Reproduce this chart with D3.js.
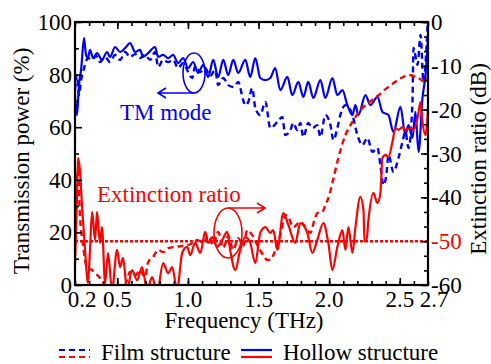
<!DOCTYPE html>
<html>
<head>
<meta charset="utf-8">
<script src="https://cdn.jsdelivr.net/npm/d3@7"></script>
<style>
  body { margin: 0; background: #fff; }
  svg { display: block; }
</style>
</head>
<body>
<div id="chart"></div>
<script>
// Transmission (%) of TM mode, hollow structure (solid blue)
const hollowTmFreq = [0.200, 0.214, 0.228, 0.243, 0.264, 0.278, 0.292, 0.306, 0.328, 0.356, 0.391, 0.427, 0.448, 0.484, 0.519, 0.555, 0.590, 0.626, 0.661, 0.682, 0.718, 0.767, 0.789, 0.824, 0.860, 0.895, 0.930, 0.966, 1.001, 1.037, 1.072, 1.108, 1.143, 1.179, 1.214, 1.250, 1.285, 1.321, 1.356, 1.406, 1.441, 1.477, 1.512, 1.548, 1.583, 1.618, 1.654, 1.704, 1.739, 1.782, 1.817, 1.852, 1.888, 1.938, 1.973, 2.023, 2.058, 2.094, 2.129, 2.165, 2.186, 2.207, 2.257, 2.292, 2.342, 2.377, 2.420, 2.455, 2.505, 2.540, 2.562, 2.590, 2.611, 2.633, 2.661, 2.682, 2.704];
const hollowTm = [72.2, 64.6, 76.0, 81.7, 93.9, 87.5, 86.3, 89.4, 86.3, 88.2, 85.6, 88.6, 86.7, 90.5, 88.6, 90.1, 92.0, 88.6, 89.4, 86.7, 88.2, 90.5, 86.7, 87.5, 86.3, 87.5, 84.4, 86.3, 82.5, 84.8, 80.6, 83.7, 79.1, 85.6, 79.1, 85.6, 79.8, 85.6, 80.6, 85.6, 79.1, 86.3, 78.7, 77.9, 78.7, 82.5, 74.1, 79.1, 72.2, 77.2, 71.5, 77.2, 71.1, 77.9, 71.1, 78.7, 72.2, 74.1, 68.4, 64.6, 68.4, 64.6, 72.2, 68.4, 71.5, 65.8, 64.6, 58.2, 67.7, 57.0, 60.8, 55.9, 65.8, 50.6, 71.1, 79.8, 97.0];

// Transmission (%) of TM mode, film structure (dashed blue)
const filmTmFreq = [0.200, 0.214, 0.228, 0.243, 0.257, 0.271, 0.292, 0.321, 0.349, 0.377, 0.413, 0.448, 0.484, 0.519, 0.555, 0.590, 0.626, 0.661, 0.696, 0.732, 0.767, 0.789, 0.824, 0.860, 0.895, 0.930, 0.966, 1.001, 1.030, 1.051, 1.087, 1.122, 1.157, 1.193, 1.214, 1.250, 1.285, 1.321, 1.356, 1.391, 1.406, 1.427, 1.455, 1.477, 1.512, 1.548, 1.583, 1.633, 1.668, 1.689, 1.725, 1.746, 1.774, 1.796, 1.817, 1.852, 1.881, 1.916, 1.938, 1.973, 2.009, 2.030, 2.058, 2.079, 2.115, 2.165, 2.200, 2.235, 2.271, 2.306, 2.342, 2.363, 2.384, 2.405, 2.420, 2.455, 2.491, 2.519, 2.540, 2.562, 2.590, 2.597, 2.626, 2.647, 2.668, 2.697];
const filmTm = [74.1, 79.8, 72.2, 77.9, 81.0, 83.7, 86.3, 85.6, 87.1, 84.8, 86.7, 84.8, 87.5, 85.6, 88.6, 86.7, 87.8, 86.3, 87.5, 85.6, 88.6, 82.9, 85.6, 84.8, 85.6, 82.5, 84.4, 81.0, 78.7, 83.3, 81.0, 82.5, 79.5, 81.7, 76.0, 78.7, 76.0, 75.3, 77.2, 70.3, 68.4, 69.6, 74.9, 67.3, 64.6, 69.6, 59.7, 62.0, 63.9, 57.0, 58.9, 61.6, 58.9, 61.6, 56.3, 61.6, 59.7, 60.8, 56.3, 64.6, 60.8, 55.1, 59.7, 64.6, 68.4, 64.6, 57.0, 53.2, 55.9, 50.6, 52.1, 45.6, 38.0, 41.8, 49.4, 43.0, 48.3, 54.4, 58.2, 52.1, 69.6, 90.1, 83.7, 95.1, 77.2, 98.9];

// Extinction ratio (dB), hollow structure (solid red)
const hollowErFreq = [0.200, 0.214, 0.221, 0.235, 0.250, 0.271, 0.292, 0.306, 0.321, 0.342, 0.356, 0.377, 0.391, 0.413, 0.434, 0.462, 0.498, 0.519, 0.540, 0.569, 0.604, 0.640, 0.675, 0.711, 0.746, 0.782, 0.824, 0.860, 0.888, 0.923, 0.959, 0.994, 1.016, 1.051, 1.087, 1.122, 1.143, 1.172, 1.207, 1.243, 1.278, 1.299, 1.335, 1.370, 1.406, 1.441, 1.477, 1.512, 1.548, 1.583, 1.604, 1.633, 1.675, 1.711, 1.760, 1.796, 1.845, 1.881, 1.916, 1.959, 1.994, 2.023, 2.058, 2.094, 2.115, 2.136, 2.165, 2.186, 2.221, 2.243, 2.250, 2.264, 2.278, 2.313, 2.342, 2.363, 2.377, 2.399, 2.420, 2.448, 2.469, 2.491, 2.519, 2.540, 2.576, 2.597, 2.626, 2.647, 2.661, 2.682, 2.704];
const hollowEr = [-55.4, -40.6, -31.0, -33.8, -42.2, -52.0, -59.5, -52.0, -43.3, -49.7, -43.3, -50.4, -46.8, -59.5, -52.7, -61.1, -52.0, -55.9, -53.8, -61.1, -56.6, -58.9, -55.9, -61.1, -58.2, -61.6, -55.0, -57.3, -55.9, -61.1, -52.7, -51.3, -53.2, -50.4, -52.7, -47.9, -50.4, -49.1, -51.3, -49.7, -47.9, -52.0, -56.6, -52.0, -49.1, -50.4, -55.0, -48.1, -46.8, -48.1, -47.5, -52.0, -43.6, -46.3, -50.4, -45.9, -48.1, -52.7, -49.7, -45.9, -50.4, -56.6, -51.3, -47.5, -52.0, -46.8, -52.7, -46.8, -39.9, -42.9, -50.0, -50.0, -45.2, -39.0, -41.3, -39.0, -31.0, -30.3, -30.8, -27.4, -24.2, -24.6, -24.0, -24.6, -24.2, -24.6, -21.9, -18.3, -22.8, -25.8, -17.8];

// Extinction ratio (dB), film structure (dashed red)
const filmErFreq = [0.200, 0.221, 0.235, 0.257, 0.285, 0.321, 0.356, 0.391, 0.427, 0.484, 0.555, 0.590, 0.626, 0.661, 0.696, 0.718, 0.753, 0.789, 0.824, 0.860, 0.909, 0.959, 1.016, 1.065, 1.108, 1.143, 1.179, 1.214, 1.250, 1.285, 1.321, 1.356, 1.391, 1.420, 1.455, 1.498, 1.533, 1.562, 1.583, 1.604, 1.654, 1.689, 1.711, 1.746, 1.796, 1.831, 1.867, 1.895, 1.916, 1.952, 1.973, 2.001, 2.023, 2.065, 2.115, 2.165, 2.221, 2.278, 2.349, 2.420, 2.491, 2.562, 2.633, 2.682, 2.704];
const filmEr = [-38.3, -33.8, -44.0, -50.9, -56.1, -56.6, -57.7, -58.9, -61.1, -61.6, -60.0, -57.0, -57.9, -56.6, -58.2, -54.8, -53.6, -52.0, -52.5, -51.6, -51.3, -51.1, -50.7, -49.7, -50.4, -48.8, -50.9, -47.9, -51.6, -48.8, -52.0, -49.3, -51.1, -47.5, -48.6, -51.3, -53.2, -54.3, -54.3, -53.2, -48.6, -44.0, -44.5, -46.8, -45.6, -46.8, -48.1, -45.2, -43.6, -43.3, -41.8, -39.5, -36.7, -31.0, -25.8, -22.8, -20.1, -18.5, -16.7, -14.8, -13.2, -12.1, -12.8, -13.7, -12.1];

// Reference level (dB)
const erLevel = -50;

// Axis ticks and labels
const freqTicks = [0.2, 0.5, 1.0, 1.5, 2.0, 2.5, 2.7];
const freqMajor = [0.5, 1.0, 1.5, 2.0, 2.5];
const tmTicks = [0, 20, 40, 60, 80, 100];
const erTicks = [0, -10, -20, -30, -40, -50, -60];

const width = 491, height = 364;
const m = { left: 75, right: 428, top: 22, bottom: 285 };
const blue = '#0000ff', red = '#ff0000';
const serif = '"Liberation Serif"';

const svg = d3.select('#chart').append('svg')
  .attr('width', width)
  .attr('height', height);

const x = d3.scaleLinear().domain([0.2, 2.7]).range([m.left, m.right]);
const yL = d3.scaleLinear().domain([0, 100]).range([m.bottom, m.top]);
const yR = d3.scaleLinear().domain([-60, 0]).range([m.bottom, m.top]);

svg.append('clipPath').attr('id', 'plot')
  .append('rect')
  .attr('x', m.left).attr('y', m.top)
  .attr('width', m.right - m.left).attr('height', m.bottom - m.top);

const plot = svg.append('g').attr('clip-path', 'url(#plot)');

const lineL = d3.line().x(d => x(d[0])).y(d => yL(d[1])).curve(d3.curveMonotoneX);
const lineR = d3.line().x(d => x(d[0])).y(d => yR(d[1])).curve(d3.curveMonotoneX);

const pairs = (fs, vs) => fs.map((f, i) => [f, vs[i]]);

// Series (film first, then hollow, red drawn over blue)
plot.append('path')
  .attr('d', lineL(pairs(filmTmFreq, filmTm)))
  .attr('fill', 'none').attr('stroke', blue).attr('stroke-width', 2.4)
  .attr('stroke-dasharray', '6,4');

plot.append('path')
  .attr('d', lineL(pairs(hollowTmFreq, hollowTm)))
  .attr('fill', 'none').attr('stroke', blue).attr('stroke-width', 2.2);

plot.append('line')
  .attr('x1', m.left).attr('x2', m.right)
  .attr('y1', yR(erLevel)).attr('y2', yR(erLevel))
  .attr('stroke', red).attr('stroke-width', 2.5)
  .attr('stroke-dasharray', '3,2');

plot.append('path')
  .attr('d', lineR(pairs(filmErFreq, filmEr)))
  .attr('fill', 'none').attr('stroke', red).attr('stroke-width', 2.4)
  .attr('stroke-dasharray', '6,4');

plot.append('path')
  .attr('d', lineR(pairs(hollowErFreq, hollowEr)))
  .attr('fill', 'none').attr('stroke', red).attr('stroke-width', 2.2);

// Axes with inward ticks
const fmtF = d => d.toFixed(1);
const freqMinor = d3.range(2, 28).map(i => i / 10);

svg.append('g')
  .attr('transform', `translate(0,${m.bottom})`)
  .call(d3.axisBottom(x).tickValues(freqMinor).tickSize(-4).tickFormat(''));
svg.append('g')
  .attr('transform', `translate(0,${m.bottom})`)
  .call(d3.axisBottom(x).tickValues(freqMajor).tickSize(-7).tickFormat(''));
svg.append('g')
  .attr('transform', `translate(0,${m.top})`)
  .call(d3.axisTop(x).tickValues(freqMinor).tickSize(-4).tickFormat(''));
svg.append('g')
  .attr('transform', `translate(0,${m.top})`)
  .call(d3.axisTop(x).tickValues(freqMajor).tickSize(-7).tickFormat(''));

svg.append('g')
  .attr('transform', `translate(${m.left},0)`)
  .call(d3.axisLeft(yL).tickValues(d3.range(10, 100, 20)).tickSize(-4).tickFormat(''));
svg.append('g')
  .attr('transform', `translate(${m.left},0)`)
  .call(d3.axisLeft(yL).tickValues(tmTicks).tickSize(-7).tickFormat(''));

svg.append('g')
  .attr('transform', `translate(${m.right},0)`)
  .call(d3.axisRight(yR).tickValues(d3.range(0, 18).map(i => -i * 10 / 3)).tickSize(-4).tickFormat(''));
svg.append('g')
  .attr('transform', `translate(${m.right},0)`)
  .call(d3.axisRight(yR).tickValues(erTicks).tickSize(-7).tickFormat(''));

svg.selectAll('.domain').remove();
svg.selectAll('.tick line').attr('stroke', '#000').attr('stroke-width', 1.6);

// Frame
svg.append('rect')
  .attr('x', m.left).attr('y', m.top)
  .attr('width', m.right - m.left).attr('height', m.bottom - m.top)
  .attr('fill', 'none').attr('stroke', '#000').attr('stroke-width', 2.2);

// Text helper with the serif face set inline
const label = (sel, size) => sel.style('font-family', serif).attr('font-size', size);

// Tick labels
const labelFont = 23;
svg.append('g').selectAll('text')
  .data(freqTicks).enter().append('text')
  .attr('x', d => x(d) + (d === 0.2 ? 7 : d === 2.7 ? 6 : 0))
  .attr('y', 307)
  .attr('text-anchor', 'middle')
  .call(label, labelFont)
  .text(fmtF);

svg.append('g').selectAll('text')
  .data(tmTicks).enter().append('text')
  .attr('x', m.left - 3)
  .attr('y', d => yL(d))
  .attr('dy', '0.35em')
  .attr('text-anchor', 'end')
  .call(label, labelFont)
  .text(d => d);

svg.append('g').selectAll('text')
  .data(erTicks).enter().append('text')
  .attr('x', m.right + 3)
  .attr('y', d => yR(d))
  .attr('dy', '0.35em')
  .call(label, labelFont)
  .attr('fill', d => d === erLevel ? red : '#000')
  .text(d => d === 0 ? '0' : '-' + Math.abs(d));

// Axis titles
svg.append('text')
  .attr('x', 244).attr('y', 328)
  .attr('text-anchor', 'middle')
  .call(label, 23)
  .text('Frequency (THz)');

svg.append('text')
  .attr('transform', 'translate(29,161) rotate(-90)')
  .attr('text-anchor', 'middle')
  .call(label, 23)
  .text('Transmission power (%)');

svg.append('text')
  .attr('transform', 'translate(486,159) rotate(-90)')
  .attr('text-anchor', 'middle')
  .call(label, 23)
  .text('Extinction ratio (dB)');

// Annotations
svg.append('ellipse')
  .attr('cx', 194).attr('cy', 73).attr('rx', 11).attr('ry', 20)
  .attr('fill', 'none').attr('stroke', blue).attr('stroke-width', 1.6);
svg.append('path')
  .attr('d', 'M194,93H158M166,88L158,93L166,98')
  .attr('fill', 'none').attr('stroke', blue).attr('stroke-width', 1.6);
svg.append('text')
  .attr('x', 120).attr('y', 120)
  .call(label, 23).attr('fill', blue)
  .text('TM mode');

svg.append('ellipse')
  .attr('cx', 228).attr('cy', 233).attr('rx', 14).attr('ry', 25)
  .attr('fill', 'none').attr('stroke', red).attr('stroke-width', 1.6);
svg.append('path')
  .attr('d', 'M228,208H265M257,203L265,208L257,213')
  .attr('fill', 'none').attr('stroke', red).attr('stroke-width', 1.6);
svg.append('text')
  .attr('x', 97).attr('y', 202)
  .call(label, 23).attr('fill', red)
  .text('Extinction ratio');

// Legend
const legend = svg.append('g');
[[59, 'Film structure', '6,4'], [241, 'Hollow structure', null]].forEach(([lx, text, dash]) => {
  [[blue, 350], [red, 357]].forEach(([c, ly]) => {
    legend.append('line')
      .attr('x1', lx).attr('x2', lx + 31)
      .attr('y1', ly).attr('y2', ly)
      .attr('stroke', c).attr('stroke-width', 2.2)
      .attr('stroke-dasharray', dash);
  });
  legend.append('text')
    .attr('x', lx + 42).attr('y', 360)
    .call(label, 23)
    .text(text);
});
</script>
</body>
</html>
